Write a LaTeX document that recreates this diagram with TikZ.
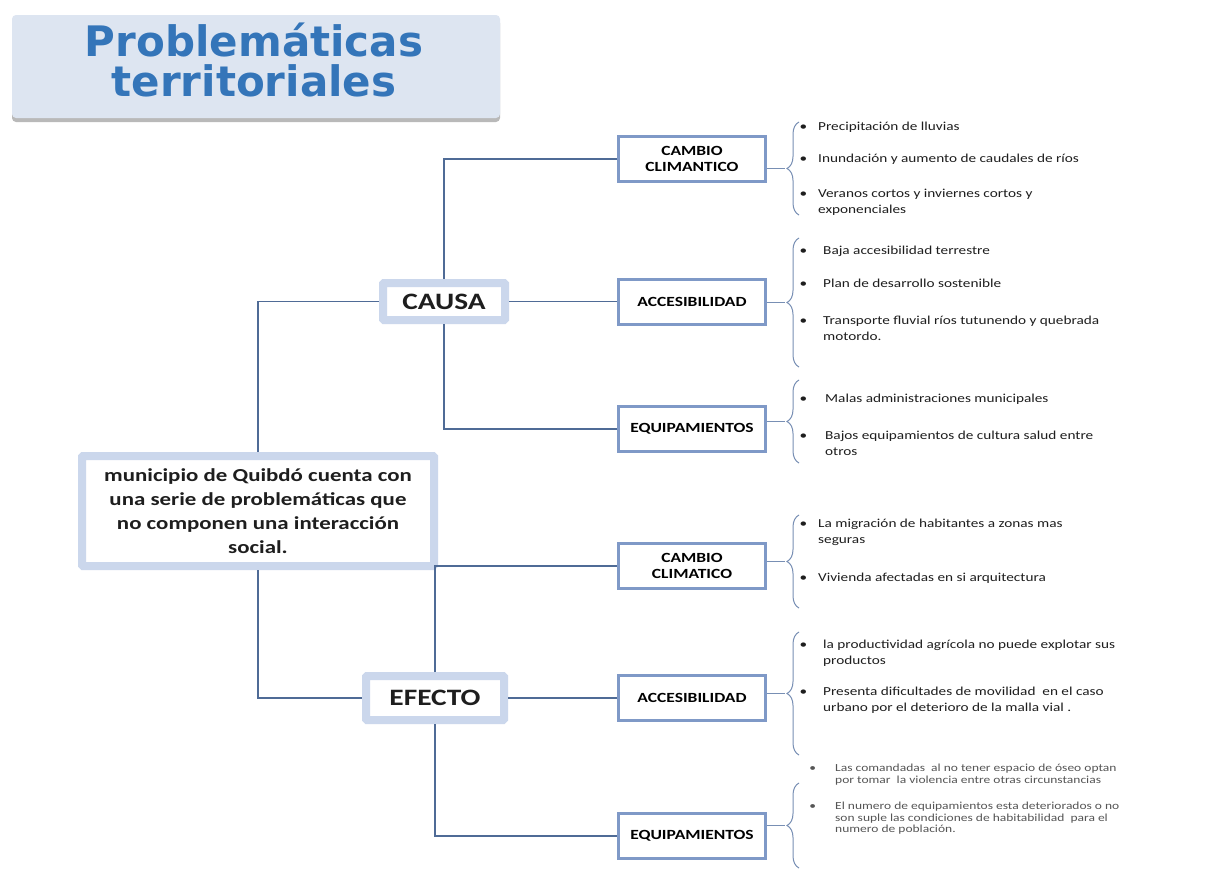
\documentclass[tikz,border=0pt]{standalone}
\usepackage{fontspec}
\setmainfont{Carlito}[FakeStretch=1.25]
\newfontfamily\titfont{DejaVu Sans}
\usepackage{tikz}
\usetikzlibrary{shadows,decorations.pathreplacing}

\definecolor{titazul}{RGB}{52,117,185}
\definecolor{titfondo}{RGB}{221,229,241}
\definecolor{marcoazul}{RGB}{203,215,236}
\definecolor{cajaazul}{RGB}{127,153,199}
\definecolor{lineaazul}{RGB}{79,107,150}
\definecolor{llaveazul}{RGB}{120,143,180}
\definecolor{textogris}{RGB}{30,30,30}
\definecolor{gris2}{RGB}{85,85,85}

\newcommand\vineta[1]{\llap{\textbullet\hspace{#1pt}}}

\begin{document}
\begin{tikzpicture}[x=1pt, y=-1pt, text=textogris,
  titulo/.style={rectangle, fill=titfondo, rounded corners=4pt, drop shadow={opacity=0.55, shadow xshift=0pt, shadow yshift=-4pt}, minimum width=488pt, minimum height=103pt},
  titulotexto/.style={align=center, inner sep=0pt, text=titazul, font=\titfont\bfseries\fontsize{42}{40}\selectfont},
  marco/.style={rectangle, draw=marcoazul, line width=8pt, fill=white, inner sep=0pt, rounded corners=1pt, align=center, font=\bfseries\fontsize{23.5}{24}\selectfont},
  caja/.style={rectangle, draw=cajaazul, line width=3pt, fill=white, minimum width=147pt, minimum height=45pt, inner sep=0pt, align=center, text=black, font=\bfseries\fontsize{14}{15.5}\selectfont},
  linea/.style={draw=lineaazul, line width=1.2pt},
  llave/.style={draw=llaveazul, line width=1pt, decorate, decoration={brace, amplitude=12pt}},
  tramo/.style={draw=llaveazul, line width=1pt},
  punto/.style={anchor=north west, align=left, inner sep=0pt, font=\fontsize{12.2}{15.5}\selectfont},
  puntochico/.style={punto, text=gris2, font=\fontsize{10.8}{11.5}\selectfont}]
\useasboundingbox (0,0) rectangle (1232,873);
\fill[white] (0,0) rectangle (1232,873);

\node[titulo] (tit) at (256,66.5) {};
\node[titulotexto] (tittxt) at (254,60) {Problemáticas\\territoriales};

\node[marco, minimum width=352pt, minimum height=110pt, font=\bfseries\fontsize{18.3}{24}\selectfont] (muni) at (258,511) {municipio de Quibdó cuenta con\\una serie de problemáticas que\\no componen una interacción\\social.};
\node[marco, minimum width=122pt, minimum height=37pt] (causa) at (444,301.5) {CAUSA};
\node[marco, minimum width=138pt, minimum height=44pt] (efecto) at (435,698) {EFECTO};

\node[caja] (cc1) at (692,159) {CAMBIO\\CLIMANTICO};
\node[caja] (acc1) at (692,301.5) {ACCESIBILIDAD};
\node[caja] (eq1) at (692,429) {EQUIPAMIENTOS};
\node[caja] (cc2) at (692,566) {CAMBIO\\CLIMATICO};
\node[caja] (acc2) at (692,698) {ACCESIBILIDAD};
\node[caja] (eq2) at (692,836) {EQUIPAMIENTOS};

\draw[linea] (muni.north) |- (causa.west);
\draw[linea] (muni.south) |- (efecto.west);
\draw[linea] (causa.north) |- (cc1.west);
\draw[linea] (causa.east) -- (acc1.west);
\draw[linea] (causa.south) |- (eq1.west);
\draw[linea] (efecto.north) |- (cc2.west);
\draw[linea] (efecto.east) -- (acc2.west);
\draw[linea] (efecto.south) |- (eq2.west);

\coordinate (g1a) at (799,215); \coordinate (g1b) at (799,122); \coordinate (g1p) at (785,168.5);
\coordinate (g2a) at (799,367); \coordinate (g2b) at (799,238); \coordinate (g2p) at (785,302.5);
\coordinate (g3a) at (799,463); \coordinate (g3b) at (799,380); \coordinate (g3p) at (785,421.5);
\coordinate (g4a) at (799,608); \coordinate (g4b) at (799,515); \coordinate (g4p) at (785,561.5);
\coordinate (g5a) at (799,755); \coordinate (g5b) at (799,632); \coordinate (g5p) at (785,693.5);
\coordinate (g6a) at (799,868); \coordinate (g6b) at (799,783); \coordinate (g6p) at (785,825.5);

\draw[llave] (g1a) -- (g1b);
\draw[llave] (g2a) -- (g2b);
\draw[llave] (g3a) -- (g3b);
\draw[llave] (g4a) -- (g4b);
\draw[llave] (g5a) -- (g5b);
\draw[llave] (g6a) -- (g6b);
\draw[tramo] (cc1.east |- g1p) -- (g1p);
\draw[tramo] (acc1.east |- g2p) -- (g2p);
\draw[tramo] (eq1.east |- g3p) -- (g3p);
\draw[tramo] (cc2.east |- g4p) -- (g4p);
\draw[tramo] (acc2.east |- g5p) -- (g5p);
\draw[tramo] (eq2.east |- g6p) -- (g6p);

\node[punto] (p1) at (818,122) {\vineta{11}Precipitación de lluvias};
\node[punto] (p2) at (818,154) {\vineta{11}Inundación y aumento de caudales de ríos};
\node[punto] (p3) at (818,189) {\vineta{11}Veranos cortos y inviernes cortos y\\exponenciales};
\node[punto] (p4) at (823,246) {\vineta{16}Baja accesibilidad terrestre};
\node[punto] (p5) at (823,279) {\vineta{16}Plan de desarrollo sostenible};
\node[punto] (p6) at (823,316) {\vineta{16}Transporte fluvial ríos tutunendo y quebrada\\motordo.};
\node[punto] (p7) at (825,394) {\vineta{18}Malas administraciones municipales};
\node[punto] (p8) at (825,431) {\vineta{18}Bajos equipamientos de cultura salud entre\\otros};
\node[punto] (p9) at (818,519) {\vineta{11}La migración de habitantes a zonas mas\\seguras};
\node[punto] (p10) at (818,573) {\vineta{11}Vivienda afectadas en si arquitectura};
\node[punto] (p11) at (823,640) {\vineta{16}la productividad agrícola no puede explotar sus\\productos};
\node[punto] (p12) at (823,687) {\vineta{16}Presenta dificultades de movilidad\ \ en el caso\\urbano por el deterioro de la malla vial .};
\node[puntochico] (p13) at (835,764) {\vineta{19}Las comandadas\ \ al no tener espacio de óseo optan\\por tomar\ \ la violencia entre otras circunstancias};
\node[puntochico] (p14) at (835,802) {\vineta{19}El numero de equipamientos esta deteriorados o no\\son suple las condiciones de habitabilidad\ \ para el\\numero de población.};
\end{tikzpicture}
\end{document}
